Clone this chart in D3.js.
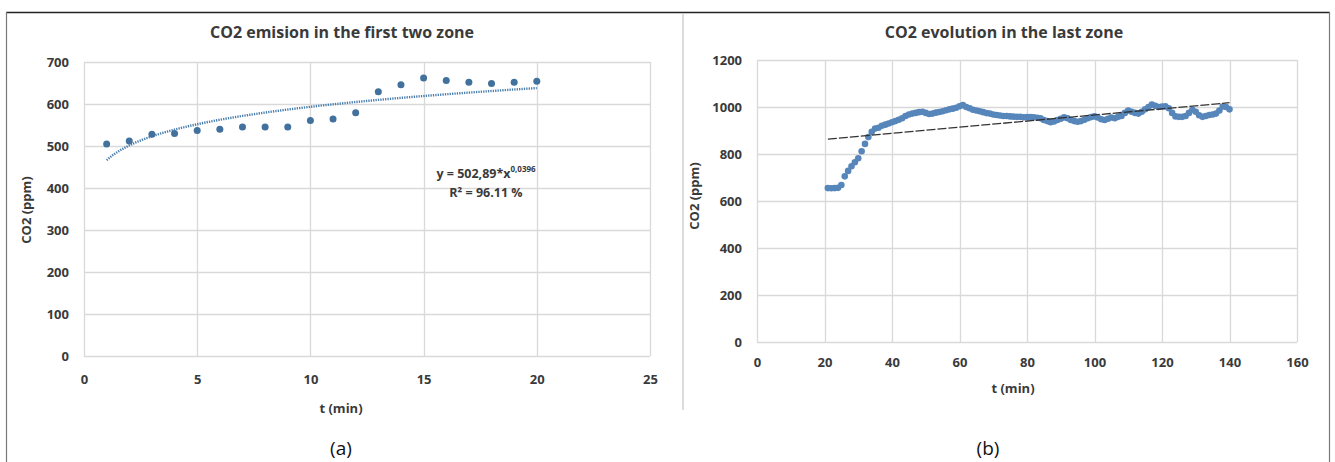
<!DOCTYPE html>
<html><head><meta charset="utf-8">
<script src="https://cdn.jsdelivr.net/npm/d3@7"></script>
<style>
body{margin:0;background:#fff}
svg text{font-family:'Open Sans',sans-serif}
</style>
</head><body>
<svg id="c" width="1335" height="462"></svg>
<script>
// ---------- data: panel (a) ----------
const titleA = "CO2 emision in the first two zone";
const tA = [1,2,3,4,5,6,7,8,9,10,11,12,13,14,15,16,17,18,19,20];
const co2A = [505,512,528,530,537,540,545,545,545,561,564,579,629,646,662,656,652,649,652,654];
const xTicksA = [0,5,10,15,20,25];
const yTicksA = [0,100,200,300,400,500,600,700];

// ---------- data: panel (b) ----------
const titleB = "CO2 evolution in the last zone";
const tB = [21,22,23,24,25,26,27,28,29,30,31,32,33,34,35,36,37,38,39,40,
  41,42,43,44,45,46,47,48,49,50,51,52,53,54,55,56,57,58,59,60,
  61,62,63,64,65,66,67,68,69,70,71,72,73,74,75,76,77,78,79,80,
  81,82,83,84,85,86,87,88,89,90,91,92,93,94,95,96,97,98,99,100,
  101,102,103,104,105,106,107,108,109,110,111,112,113,114,115,116,117,118,119,120,
  121,122,123,124,125,126,127,128,129,130,131,132,133,134,135,136,137,138,139,140];
const co2B = [655,654,655,656,668,705,728,748,765,782,812,843,872,895,908,912,920,925,930,935,
  940,946,952,962,968,972,975,978,980,975,970,972,976,979,982,986,990,993,997,1003,
  1008,1000,995,988,985,982,978,974,972,968,966,964,962,962,960,959,958,958,956,957,
  957,956,954,952,945,940,935,938,945,950,956,952,945,940,937,940,946,952,957,960,
  955,948,945,950,955,952,958,962,975,985,980,975,972,980,990,1000,1010,1005,1000,1002,
  1003,995,975,960,958,958,962,975,988,980,965,958,962,966,968,972,985,1002,1000,990];
const xTicksB = [0,20,40,60,80,100,120,140,160];
const yTicksB = [0,200,400,600,800,1000,1200];

const svg = d3.select("#c");
const txt = "#3a3a3a", grid = "#d9d9d9";

// frame
svg.append("line").attr("x1",6).attr("x2",1330).attr("y1",12.5).attr("y2",12.5).attr("stroke","#222").attr("stroke-width",1.5);
svg.append("line").attr("x1",6.5).attr("x2",6.5).attr("y1",12).attr("y2",462).attr("stroke","#777").attr("stroke-width",1.2);
svg.append("line").attr("x1",1329.5).attr("x2",1329.5).attr("y1",12).attr("y2",462).attr("stroke","#777").attr("stroke-width",1.2);
svg.append("line").attr("x1",683).attr("x2",683).attr("y1",13).attr("y2",410).attr("stroke","#d0d0d0").attr("stroke-width",1.5);

function panel(o){
  const g = svg.append("g");
  const x = d3.scaleLinear().domain(o.xd).range([o.l,o.r]);
  const y = d3.scaleLinear().domain(o.yd).range([o.b,o.t]);
  g.append("g").selectAll("line").data(o.yt).join("line")
    .attr("x1",o.l).attr("x2",o.r).attr("y1",d=>Math.round(y(d))+0.5).attr("y2",d=>Math.round(y(d))+0.5)
    .attr("stroke",grid).attr("stroke-width",1.3);
  g.append("g").selectAll("line").data(o.xt).join("line")
    .attr("y1",o.t).attr("y2",o.b).attr("x1",d=>Math.round(x(d))+0.5).attr("x2",d=>Math.round(x(d))+0.5)
    .attr("stroke",grid).attr("stroke-width",1.3);
  const fmt = d3.format("d");
  const ya = d3.axisLeft(y).tickValues(o.yt).tickFormat(fmt).tickSize(0).tickPadding(o.ypad);
  const yg = g.append("g").attr("transform",`translate(${o.l},0)`).call(ya);
  yg.select(".domain").remove();
  yg.selectAll("text").attr("fill",txt).attr("font-size",o.fs).attr("font-weight",700).attr("font-family","'Open Sans',sans-serif");
  const xa = d3.axisBottom(x).tickValues(o.xt).tickFormat(fmt).tickSize(0).tickPadding(o.xpad);
  const xg = g.append("g").attr("transform",`translate(0,${o.b})`).call(xa);
  xg.select(".domain").remove();
  xg.selectAll("text").attr("fill",txt).attr("font-size",o.fs).attr("font-weight",700).attr("font-family","'Open Sans',sans-serif");
  g.append("text").attr("x",o.tx).attr("y",o.ty).attr("text-anchor","middle")
    .attr("font-size",16).attr("font-weight",700).attr("fill",txt).text(o.title);
  g.append("text").attr("x",o.xlx).attr("y",o.xly).attr("text-anchor","middle")
    .attr("font-size",o.fs).attr("font-weight",700).attr("fill",txt).text("t (min)");
  g.append("text").attr("transform",`translate(${o.ylx},${o.yly}) rotate(-90)`).attr("text-anchor","middle")
    .attr("font-size",o.fs).attr("font-weight",700).attr("fill",txt).text("CO2 (ppm)");
  return {g,x,y};
}

// ---- panel (a)
const A = panel({xd:[0,25],yd:[0,700],l:84,r:650,t:62,b:356,xt:xTicksA,yt:yTicksA,
  fs:13,ypad:15,xpad:19,title:titleA,tx:342,ty:38,xlx:341,xly:413,ylx:31,yly:210});

// power trendline fitted from the data (log-log least squares)
{
  const lx = tA.map(Math.log), ly = co2A.map(Math.log);
  const mx = d3.mean(lx), my = d3.mean(ly);
  const b = d3.sum(lx.map((v,i)=>(v-mx)*(ly[i]-my))) / d3.sum(lx.map(v=>(v-mx)*(v-mx)));
  const a = Math.exp(my - b*mx);
  const xs = d3.ticks(tA[0], tA[tA.length-1], 80);
  A.g.append("path").datum(xs).attr("fill","none").attr("stroke","#4a7eae")
    .attr("stroke-width",2.4).attr("stroke-dasharray","1.3 1.1")
    .attr("d", d3.line().x(d=>A.x(d)).y(d=>A.y(a*Math.pow(d,b))));
}
A.g.append("g").selectAll("circle").data(tA).join("circle")
  .attr("cx",d=>A.x(d)).attr("cy",(d,i)=>A.y(co2A[i])).attr("r",3.5).attr("fill","#41719c");

// equation label
{
  const e = A.g.append("text").attr("x",486).attr("y",178).attr("text-anchor","middle")
    .attr("font-size",12.5).attr("font-weight",700).attr("fill",txt);
  e.append("tspan").text("y = 502,89*x");
  e.append("tspan").attr("font-size",8).attr("dy",-6).text("0,0396");
  A.g.append("text").attr("x",486).attr("y",197).attr("text-anchor","middle")
    .attr("font-size",12.5).attr("font-weight",700).attr("fill",txt).text("R² = 96.11 %");
}

// ---- panel (b)
const B = panel({xd:[0,160],yd:[0,1200],l:757,r:1297,t:60,b:342,xt:xTicksB,yt:yTicksB,
  fs:13,ypad:15,xpad:16,title:titleB,tx:1004,ty:38,xlx:1013,xly:393,ylx:699,yly:196});

B.g.append("g").selectAll("circle").data(tB).join("circle")
  .attr("cx",d=>B.x(d)).attr("cy",(d,i)=>B.y(co2B[i])).attr("r",3.3).attr("fill","#5686ba");

// linear trendline fitted from the data
{
  const mx = d3.mean(tB), my = d3.mean(co2B);
  const m = d3.sum(tB.map((v,i)=>(v-mx)*(co2B[i]-my))) / d3.sum(tB.map(v=>(v-mx)*(v-mx)));
  const c = my - m*mx;
  const ends = [tB[0], tB[tB.length-1]];
  B.g.append("path").datum(ends).attr("fill","none").attr("stroke","#333")
    .attr("stroke-width",1.3).attr("stroke-dasharray","9 2")
    .attr("d", d3.line().x(d=>B.x(d)).y(d=>B.y(m*d+c)));
}

// captions
svg.append("text").attr("x",341).attr("y",455).attr("text-anchor","middle")
  .attr("font-family","'Liberation Serif',serif").attr("font-size",19).attr("fill","#111").text("(a)");
svg.append("text").attr("x",988).attr("y",455).attr("text-anchor","middle")
  .attr("font-family","'Liberation Serif',serif").attr("font-size",19).attr("fill","#111").text("(b)");
</script>
</body></html>
